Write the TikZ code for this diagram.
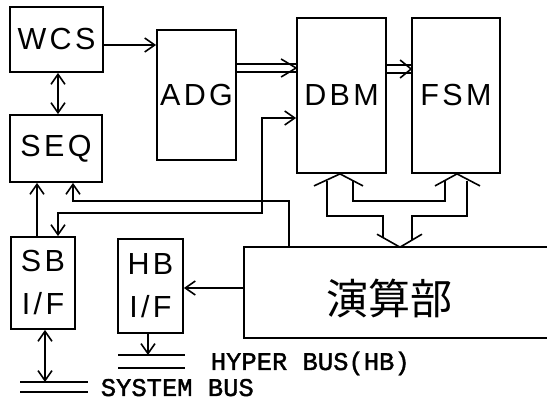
\documentclass[tikz,border=0pt]{standalone}
\usepackage{fontspec}
\usetikzlibrary{arrows.meta,calc}
\newfontfamily\boxfont{Liberation Sans}[LetterSpace=11]
\newfontfamily\busfont{Liberation Mono}[FakeBold=1.5]
\newfontfamily\cjkfont{Noto Sans CJK JP}
\begin{document}
\begin{tikzpicture}[x=1pt,y=-1pt,line width=1.6pt,
  blk/.style={draw,line width=1.8pt,inner sep=0pt,align=center,
    font=\boxfont\fontsize{30.5}{43}\selectfont},
  arrowend/.style={-{Straight Barb[length=10pt,width=14pt]}},
  arrowboth/.style={{Straight Barb[length=10pt,width=14pt]}-{Straight Barb[length=10pt,width=14pt]}},
  bustext/.style={anchor=base west,inner sep=0pt,font=\busfont\fontsize{25.5}{25.5}\selectfont}]
\useasboundingbox (0,0) rectangle (547,403);
% blocks
\node[blk,minimum width=93pt,minimum height=65pt] (wcs) at (56.5,39.5) {WCS};
\node[blk,minimum width=92pt,minimum height=67pt] (seq) at (56,148.5) {SEQ};
\node[blk,minimum width=79pt,minimum height=130pt] (adg) at (196.5,95) {ADG};
\node[blk,minimum width=89pt,minimum height=155pt] (dbm) at (341.5,95.5) {DBM};
\node[blk,minimum width=88pt,minimum height=155pt] (fsm) at (456,95.5) {FSM};
\node[blk,minimum width=64pt,minimum height=92pt] (sbif) at (43,283) {SB\\I/F};
\node[blk,minimum width=65pt,minimum height=94pt] (hbif) at (150.5,286) {HB\\I/F};
\node[inner sep=0pt,minimum width=302pt,minimum height=89pt] (enzan) at (396,292.5) {};
\draw[line width=1.8pt] (enzan.north east) -- (enzan.north west) -- (enzan.south west) -- (enzan.south east);
\node[inner sep=0pt,font=\cjkfont\fontsize{42}{42}\selectfont] (enzanlbl) at (389,298) {演算部};
% buses
\coordinate (hbus) at (118,355);
\coordinate (sbus) at (20,382);
\draw (hbus) -- ++(67,0);
\draw ($(hbus)+(0,13)$) -- ++(67,0);
\draw (sbus) -- ++(68,0);
\draw ($(sbus)+(0,10)$) -- ++(68,0);
\node[bustext] (hbtext) at (210,370) {HYPER BUS(HB)};
\node[bustext] (sbtext) at (100,396) {SYSTEM BUS};
% connectors
\draw[arrowend] (wcs.east |- 0,45) -- (adg.west |- 0,45);
\draw[arrowboth] (wcs.south -| 58,0) -- (seq.north -| 58,0);
% ADG => DBM
\draw (adg.east |- 0,64) -- (dbm.west |- 0,64);
\draw (adg.east |- 0,72) -- (dbm.west |- 0,72);
\draw ($(dbm.west |- 0,68)+(-15,-9)$) -- (dbm.west |- 0,68) -- ++(-15,9);
% DBM => FSM
\draw (dbm.east |- 0,65) -- (fsm.west |- 0,65);
\draw (dbm.east |- 0,73) -- (fsm.west |- 0,73);
\draw ($(fsm.west |- 0,69)+(-11,-9)$) -- (fsm.west |- 0,69) -- ++(-11,9);
% SB I/F <-> DBM
\draw[arrowboth] (sbif.north -| 58,0) |- (262,213) |- (dbm.west |- 0,118);
% enzan -> SEQ
\draw[arrowend] (enzan.north -| 289,0) |- (73,201) -- (seq.south -| 73,0);
% SB I/F -> SEQ
\draw[arrowend] (sbif.north -| 37,0) -- (seq.south -| 37,0);
% enzan -> HB I/F
\draw[arrowend] (enzan.west |- 0,288) -- (hbif.east |- 0,288);
% I/F to buses
\draw[arrowboth] (sbif.south -| 45,0) -- (sbus -| 45,0);
\draw[arrowend] (hbif.south -| 148,0) -- (hbus -| 148,0);
% wide bus arrows between enzan and DBM/FSM
\coordinate (dtip) at (dbm.south -| 340,0);
\coordinate (ftip) at (fsm.south -| 457,0);
\coordinate (etip) at (enzan.north -| 400,0);
\draw ($(dtip)+(-26,12)$) -- (dtip) -- ++(23,12);
\draw ($(ftip)+(-22,12)$) -- (ftip) -- ++(23,12);
\draw ($(etip)+(-23,-13)$) -- (etip) -- ++(22,-13);
\draw ($(dtip)+(13,7)$) |- ($(ftip)+(-12,27)$) -- ($(ftip)+(-12,7)$);
\draw ($(dtip)+(-13,7)$) |- ($(etip)+(-17,-31)$) -- ($(etip)+(-17,-9.5)$);
\draw ($(ftip)+(10,7)$) |- ($(etip)+(12,-31)$) -- ($(etip)+(12,-7.5)$);
\end{tikzpicture}
\end{document}
